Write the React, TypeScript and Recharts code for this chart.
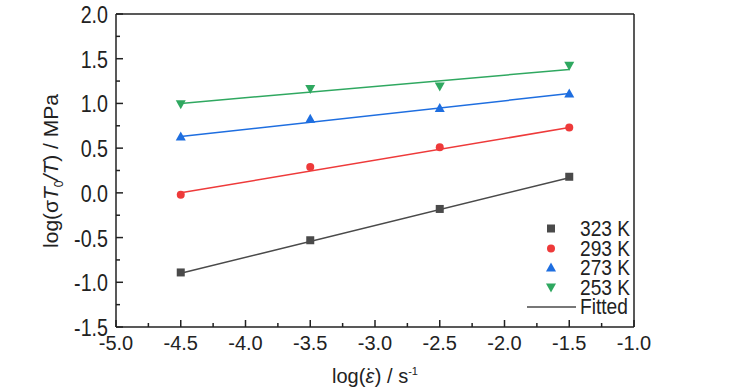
import {
  ComposedChart,
  Line,
  Scatter,
  XAxis,
  YAxis,
  ReferenceLine,
  Label,
} from "recharts";

// log strain rate positions
const strainRates = [-4.5, -3.5, -2.5, -1.5];
const fitEnds = [-4.5, -1.5];

// measured log(sigma T0 / T)
const k323 = [-0.89, -0.53, -0.18, 0.18];
const k293 = [-0.02, 0.29, 0.51, 0.73];
const k273 = [0.63, 0.83, 0.95, 1.11];
const k253 = [0.99, 1.16, 1.19, 1.42];

// fitted line end values
const fit323 = [-0.9, 0.17];
const fit293 = [0.0, 0.73];
const fit273 = [0.63, 1.11];
const fit253 = [1.0, 1.38];

const xTicks = [-5, -4.75, -4.5, -4.25, -4, -3.75, -3.5, -3.25, -3, -2.75, -2.5, -2.25, -2, -1.75, -1.5, -1.25, -1];
const yTicks = [-1.5, -1.25, -1, -0.75, -0.5, -0.25, 0, 0.25, 0.5, 0.75, 1, 1.25, 1.5, 1.75, 2];

const FONT = "'Liberation Sans', Arial, sans-serif";
const AXIS = "#222";
const TXT = "#222";

const series = [
  { name: "323 K", values: k323, fit: fit323, color: "#4a4a4a", shape: "square" },
  { name: "293 K", values: k293, fit: fit293, color: "#ee3a3a", shape: "circle" },
  { name: "273 K", values: k273, fit: fit273, color: "#1e6ee0", shape: "up" },
  { name: "253 K", values: k253, fit: fit253, color: "#2fa860", shape: "down" },
];

const toPoints = (xs: number[], ys: number[]) => xs.map((x, i) => ({ x, y: ys[i] }));

const isMajor = (v: number) => Math.abs(v * 2 - Math.round(v * 2)) < 1e-6;

function Marker({ cx, cy, shape, color }: any) {
  const r = 4;
  if (shape === "square") return <rect x={cx - r} y={cy - r} width={2 * r} height={2 * r} fill={color} />;
  if (shape === "circle") return <circle cx={cx} cy={cy} r={r} fill={color} />;
  if (shape === "up")
    return <polygon points={`${cx},${cy - r - 1} ${cx - r - 1},${cy + r} ${cx + r + 1},${cy + r}`} fill={color} />;
  return <polygon points={`${cx},${cy + r + 1} ${cx - r - 1},${cy - r} ${cx + r + 1},${cy - r}`} fill={color} />;
}

function XTick({ x, y, payload }: any) {
  const major = isMajor(payload.value);
  return (
    <g>
      <line x1={x} x2={x} y1={y} y2={y - (major ? 7 : 4)} stroke={AXIS} strokeWidth={1.5} />
      {major && (
        <text x={x} y={y + 23} textAnchor="middle" fontSize={20} fill={TXT} fontFamily={FONT}>
          {payload.value.toFixed(1)}
        </text>
      )}
    </g>
  );
}

function YTick({ x, y, payload }: any) {
  const major = isMajor(payload.value);
  return (
    <g>
      <line x1={x} x2={x + (major ? 7 : 4)} y1={y} y2={y} stroke={AXIS} strokeWidth={1.5} />
      {major && (
        <text
          transform={`translate(${x - 8},${y + 9}) scale(0.82,1)`}
          textAnchor="end"
          fontSize={24}
          fill={TXT}
          fontFamily={FONT}
        >
          {payload.value.toFixed(1)}
        </text>
      )}
    </g>
  );
}

function LegendBox() {
  const row = { display: "flex", alignItems: "center", height: 19.5 } as const;
  const label = {
    display: "inline-block",
    marginLeft: 4,
    transform: "scaleX(0.87)",
    transformOrigin: "left center",
    whiteSpace: "nowrap",
  } as const;
  return (
    <div
      style={{
        position: "absolute",
        left: 515,
        top: 219,
        fontFamily: FONT,
        fontSize: 22,
        color: TXT,
        lineHeight: "19.5px",
      }}
    >
      {series.map((s) => (
        <div key={s.name} style={row}>
          <svg width={61} height={19} style={{ display: "block" }}>
            <Marker cx={36} cy={9.5} shape={s.shape} color={s.color} />
          </svg>
          <span style={label}>{s.name}</span>
        </div>
      ))}
      <div style={row}>
        <svg width={61} height={19} style={{ display: "block" }}>
          <line x1={12} x2={61} y1={10} y2={10} stroke="#4a4a4a" strokeWidth={1.5} />
        </svg>
        <span style={label}>Fitted</span>
      </div>
    </div>
  );
}

export default function App() {
  return (
    <div style={{ position: "absolute", left: 0, top: 0, width: 729, height: 390, background: "#fff" }}>
      <ComposedChart width={729} height={390} margin={{ top: 14, right: 95, bottom: 0, left: 0 }}>
        <XAxis
          dataKey="x"
          type="number"
          domain={[-5, -1]}
          ticks={xTicks}
          interval={0}
          tick={<XTick />}
          tickLine={false}
          tickSize={0}
          tickMargin={0}
          height={63}
          stroke={AXIS}
          strokeWidth={1.5}
          allowDataOverflow
        >
          <Label
            content={() => (
              <text x={375} y={383} textAnchor="middle" fontSize={20} fill={TXT} fontFamily={FONT}>
                log(<tspan fontStyle="italic">ε</tspan>
                <tspan dx={-8}>˙</tspan>
                <tspan dx={2}>) / s</tspan>
                <tspan dy={-8} fontSize={11}>-1</tspan>
              </text>
            )}
          />
        </XAxis>
        <YAxis
          dataKey="y"
          type="number"
          domain={[-1.5, 2]}
          ticks={yTicks}
          interval={0}
          tick={<YTick />}
          tickLine={false}
          tickSize={0}
          tickMargin={0}
          width={116}
          stroke={AXIS}
          strokeWidth={1.5}
          allowDataOverflow
        >
          <Label
            content={() => (
              <text
                x={58}
                y={171}
                transform="rotate(-90 58 171)"
                textAnchor="middle"
                fontSize={21}
                fill={TXT}
                fontFamily={FONT}
              >
                log(σ<tspan fontStyle="italic">T</tspan>
                <tspan dy={5} fontSize={12}>0</tspan>
                <tspan dy={-5} fontStyle="italic">/T</tspan>) / MPa
              </text>
            )}
          />
        </YAxis>
        <ReferenceLine y={2} stroke={AXIS} strokeWidth={1.5} />
        <ReferenceLine x={-1} stroke={AXIS} strokeWidth={1.5} />
        {series.map((s) => (
          <Line
            key={"fit" + s.name}
            data={toPoints(fitEnds, s.fit)}
            dataKey="y"
            type="linear"
            stroke={s.color}
            strokeWidth={1.5}
            dot={false}
            activeDot={false}
            isAnimationActive={false}
          />
        ))}
        {series.map((s) => (
          <Scatter
            key={s.name}
            name={s.name}
            data={toPoints(strainRates, s.values)}
            dataKey="y"
            shape={(p: any) => <Marker cx={p.cx} cy={p.cy} shape={s.shape} color={s.color} />}
            isAnimationActive={false}
          />
        ))}
      </ComposedChart>
      <LegendBox />
    </div>
  );
}
